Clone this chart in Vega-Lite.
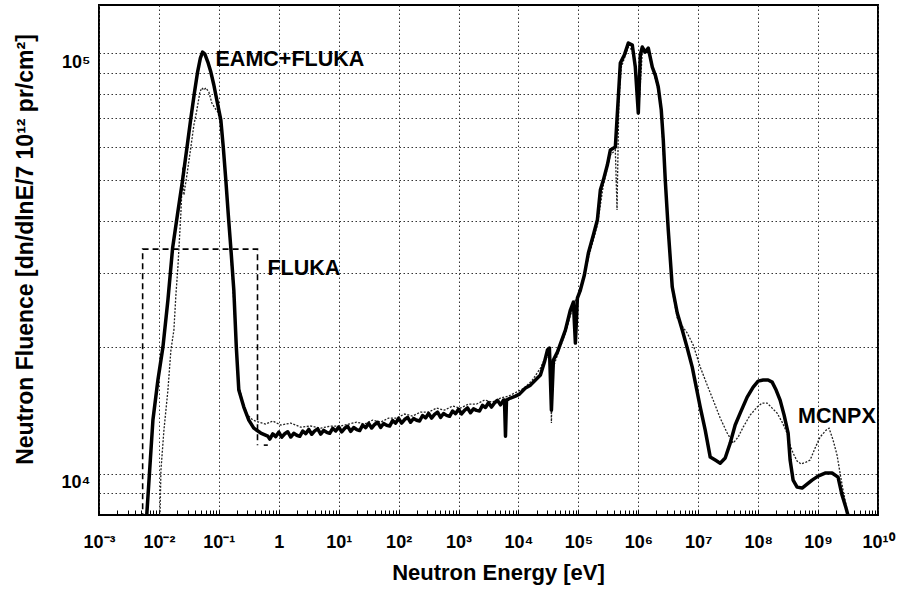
{
  "$schema": "https://vega.github.io/schema/vega-lite/v6.json",
  "width": 779,
  "height": 510,
  "autosize": "none",
  "padding": {"left": 99, "top": 5, "right": 23, "bottom": 78},
  "background": "#ffffff",
  "config": {
    "view": {"stroke": "#000000", "strokeWidth": 2},
    "font": "Liberation Sans"
  },
  "datasets": {
    "eamc": [
      {"E":0.0062,"F":7800},{"E":0.00794,"F":13420},{"E":0.00962,"F":16710},{"E":0.01166,"F":20010},{"E":0.01413,"F":25900},
      {"E":0.01692,"F":34430},{"E":0.02034,"F":41240},{"E":0.02483,"F":49950},{"E":0.02929,"F":59530},{"E":0.03415,"F":70180},
      {"E":0.03905,"F":80450},{"E":0.04416,"F":90260},{"E":0.04916,"F":97450},{"E":0.05349,"F":100700},{"E":0.05843,"F":99610},
      {"E":0.06556,"F":95350},{"E":0.07356,"F":90260},{"E":0.08254,"F":84070},{"E":0.0926,"F":77400},{"E":0.108,"F":69400},
      {"E":0.1189,"F":59530},{"E":0.1308,"F":49950},{"E":0.1439,"F":41240},{"E":0.1585,"F":34430},{"E":0.1778,"F":27350},
      {"E":0.1957,"F":20010},{"E":0.2154,"F":15820},{"E":0.2611,"F":14410},{"E":0.3162,"F":13420},{"E":0.3831,"F":12840},
      {"E":0.5012,"F":12500},{"E":0.6556,"F":12290},
      {"E":0.7079,"F":12090},{"E":0.7943,"F":12440},{"E":0.8913,"F":12260},{"E":1,"F":12560},{"E":1.122,"F":12220},
      {"E":1.259,"F":12450},{"E":1.413,"F":12590},{"E":1.585,"F":12230},{"E":1.778,"F":12480},{"E":1.995,"F":12350},
      {"E":2.239,"F":12280},{"E":2.512,"F":12640},{"E":2.818,"F":12460},{"E":3.162,"F":12750},{"E":3.548,"F":12420},
      {"E":3.981,"F":12650},{"E":4.467,"F":12790},{"E":5.012,"F":12430},{"E":5.623,"F":12680},{"E":6.31,"F":12550},
      {"E":7.079,"F":12480},{"E":7.943,"F":12830},{"E":8.913,"F":12640},{"E":10,"F":12920},{"E":11.22,"F":12580},
      {"E":12.59,"F":12830},{"E":14.13,"F":12970},{"E":15.85,"F":12620},{"E":17.78,"F":12880},{"E":19.95,"F":12740},
      {"E":22.39,"F":12670},{"E":25.12,"F":13050},{"E":28.18,"F":12870},{"E":31.62,"F":13180},{"E":35.48,"F":12850},
      {"E":39.81,"F":13100},{"E":44.67,"F":13260},{"E":50.12,"F":12890},{"E":56.23,"F":13170},{"E":63.1,"F":13040},
      {"E":70.79,"F":12990},{"E":79.43,"F":13380},{"E":89.13,"F":13200},{"E":100,"F":13540},{"E":112.2,"F":13200},
      {"E":125.9,"F":13460},{"E":141.3,"F":13620},{"E":158.5,"F":13260},{"E":177.8,"F":13540},{"E":199.5,"F":13410},
      {"E":223.9,"F":13350},{"E":251.2,"F":13760},{"E":281.8,"F":13580},{"E":316.2,"F":13920},{"E":354.8,"F":13570},
      {"E":398.1,"F":13840},{"E":446.7,"F":14010},{"E":501.2,"F":13620},{"E":562.3,"F":13910},{"E":631,"F":13770},
      {"E":707.9,"F":13700},{"E":794.3,"F":14100},{"E":891.3,"F":13900},{"E":1000,"F":14240},{"E":1122,"F":13880},
      {"E":1259,"F":14160},{"E":1413,"F":14340},{"E":1585,"F":13970},{"E":1778,"F":14270},{"E":1995,"F":14150},
      {"E":2239,"F":14100},{"E":2512,"F":14550},{"E":2818,"F":14380},{"E":3162,"F":14760},{"E":3548,"F":14410},
      {"E":3981,"F":14740},{"E":4467,"F":14950},{"E":5012,"F":14590},{"E":5623,"F":14970},
      {"E":5843,"F":14970},{"E":6072,"F":12290},{"E":6310,"F":14970},{"E":7356,"F":15140},
      {"E":8913,"F":15300},{"E":10390,"F":15470},{"E":13080,"F":15990},{"E":15850,"F":16250},{"E":19200,"F":16710},
      {"E":23260,"F":17170},{"E":27130,"F":18440},{"E":30430,"F":19690},{"E":32860,"F":19910},{"E":35480,"F":14170},
      {"E":38310,"F":18640},{"E":44670,"F":19470},{"E":60720,"F":21970},{"E":73560,"F":24520},{"E":82540,"F":25610},
      {"E":89130,"F":20460},{"E":96240,"F":26180},{"E":108000,"F":27350},{"E":125900,"F":29700},{"E":146800,"F":33500},
      {"E":177800,"F":36970},{"E":207300,"F":40130},{"E":232600,"F":47290},{"E":261000,"F":49950},{"E":304300,"F":54230},
      {"E":341500,"F":58880},{"E":413700,"F":59850},{"E":464200,"F":78700},{"E":501200,"F":94830},{"E":584600,"F":99080},
      {"E":681300,"F":105800},{"E":794300,"F":104600},{"E":891300,"F":92780},{"E":1000000,"F":72100},{"E":1080000,"F":99080},
      {"E":1166000,"F":103500},{"E":1308000,"F":100700},{"E":1468000,"F":102900},{"E":1712000,"F":92780},{"E":1920000,"F":88800},
      {"E":2154000,"F":83170},{"E":2417000,"F":73300},{"E":2611000,"F":62200},{"E":2818000,"F":49950},{"E":3162000,"F":38000},
      {"E":3687000,"F":27810},{"E":4467000,"F":24120},{"E":5412000,"F":21970},{"E":6556000,"F":19910},{"E":7943000,"F":17940},
      {"E":10800000,"F":14410},{"E":13080000,"F":12700},{"E":15850000,"F":10960},{"E":19200000,"F":10780},{"E":23260000,"F":10600},
      {"E":28180000,"F":10900},{"E":34150000,"F":11830},{"E":41370000,"F":13060},{"E":50120000,"F":13940},{"E":65560000,"F":15220},
      {"E":82540000,"F":16070},{"E":100000000,"F":16610},{"E":121200000,"F":16710},{"E":146800000,"F":16710},{"E":171200000,"F":16520},
      {"E":199500000,"F":15820},{"E":232600000,"F":14970},{"E":271200000,"F":13790},{"E":316200000,"F":12500},{"E":341500000,"F":10780},
      {"E":383100000,"F":9661},{"E":446700000,"F":9297},{"E":541200000,"F":9247},{"E":655600000,"F":9452},{"E":794300000,"F":9661},
      {"E":1000000000,"F":9875},{"E":1308000000,"F":10040},{"E":1712000000,"F":10040},{"E":2154000000,"F":9820},{"E":2512000000,"F":8900},
      {"E":2929000000,"F":8287},{"E":3286000000,"F":7800}
    ],
    "mcnpx": [
      {"E":0.0104,"F":7800},{"E":0.0108,"F":10200},{"E":0.01212,"F":12700},{"E":0.01413,"F":15820},{"E":0.01585,"F":19690},
      {"E":0.01778,"F":21970},{"E":0.01919,"F":26610},{"E":0.02073,"F":31030},{"E":0.02326,"F":41700},{"E":0.02512,"F":53640},
      {"E":0.02611,"F":46010},{"E":0.02929,"F":51350},{"E":0.03415,"F":59850},{"E":0.03831,"F":67520},{"E":0.04299,"F":73300},
      {"E":0.04824,"F":80880},{"E":0.05208,"F":82720},{"E":0.05623,"F":81800},{"E":0.06072,"F":82720},{"E":0.06813,"F":80880},
      {"E":0.07644,"F":76190},{"E":0.08577,"F":74120},{"E":0.09623,"F":72520},{"E":0.108,"F":67520},{"E":0.1212,"F":57300},
      {"E":0.136,"F":46010},{"E":0.1525,"F":35950},{"E":0.1711,"F":28100},{"E":0.1919,"F":20800},{"E":0.2154,"F":16250},
      {"E":0.2512,"F":14730},{"E":0.3043,"F":13790},{"E":0.3687,"F":13420},{"E":0.4642,"F":13270},{"E":0.6072,"F":13130},
      {"E":0.7943,"F":13350},{"E":1.08,"F":13060},{"E":1.585,"F":13200},{"E":2.326,"F":12910},{"E":3.415,"F":12990},
      {"E":5.012,"F":12840},{"E":7.356,"F":12990},{"E":10.8,"F":12990},{"E":14.68,"F":13130},{"E":19.95,"F":13270},
      {"E":27.1,"F":13130},{"E":36.87,"F":13420},{"E":50.12,"F":13270},{"E":68.1,"F":13570},{"E":92.6,"F":13570},
      {"E":125.9,"F":13870},{"E":171,"F":13720},{"E":232.6,"F":14020},{"E":316.2,"F":14020},{"E":430,"F":14330},
      {"E":584.6,"F":14170},{"E":794.3,"F":14490},{"E":1080,"F":14330},{"E":1468,"F":14650},{"E":1995,"F":14650},
      {"E":2710,"F":14970},{"E":3687,"F":14810},{"E":5012,"F":15140},{"E":6813,"F":15300},{"E":9261,"F":15640},
      {"E":12590,"F":15990},{"E":17110,"F":16710},{"E":23260,"F":17840},{"E":29290,"F":19150},{"E":34150,"F":18640},
      {"E":35480,"F":13200},{"E":36840,"F":17650},{"E":46420,"F":19470},{"E":60720,"F":21610},{"E":73560,"F":23850},
      {"E":89130,"F":25900},{"E":108000,"F":27050},{"E":146800,"F":32600},{"E":207300,"F":39050},{"E":261000,"F":48610},
      {"E":341500,"F":57300},{"E":413700,"F":58880},{"E":441600,"F":42390},{"E":473200,"F":77400},{"E":521000,"F":92780},
      {"E":681300,"F":103500},{"E":794300,"F":101800},{"E":926000,"F":90260},{"E":1039000,"F":77400},{"E":1166000,"F":100700},
      {"E":1468000,"F":100700},{"E":1848000,"F":89290},{"E":2326000,"F":77400},{"E":2818000,"F":48610},{"E":3162000,"F":36970},
      {"E":3687000,"F":27350},{"E":4467000,"F":23460},{"E":5412000,"F":22450},{"E":6556000,"F":21610},{"E":8254000,"F":20240},
      {"E":10800000,"F":17940},{"E":14130000,"F":16250},{"E":17780000,"F":14970},{"E":23260000,"F":13570},{"E":30430000,"F":12500},
      {"E":38310000,"F":11830},{"E":46420000,"F":12230},{"E":56230000,"F":12910},{"E":73560000,"F":13790},{"E":96240000,"F":14410},
      {"E":116600000,"F":14730},{"E":141300000,"F":14730},{"E":171200000,"F":14330},{"E":207300000,"F":13940},{"E":251200000,"F":13270},
      {"E":304300000,"F":12500},{"E":341500000,"F":11700},{"E":383100000,"F":11200},{"E":446700000,"F":10720},{"E":520800000,"F":10550},
      {"E":631000000,"F":10660},{"E":735600000,"F":10780},{"E":891300000,"F":11510},{"E":1080000000,"F":12230},{"E":1359000000,"F":12700},
      {"E":1525000000,"F":12840},{"E":1778000000,"F":12030},{"E":2073000000,"F":11080},{"E":2326000000,"F":10040},{"E":2610000000,"F":9147},
      {"E":2929000000,"F":8423},{"E":3162000000,"F":7800}
    ],
    "box": [
      {"part":"a","i":1,"E":0.00535,"F":7800},
      {"part":"a","i":2,"E":0.00535,"F":34230},
      {"part":"a","i":3,"E":0.4416,"F":34230},
      {"part":"a","i":4,"E":0.4416,"F":11700},
      {"part":"b","i":1,"E":0.562,"F":11700},
      {"part":"b","i":2,"E":0.656,"F":11700}
    ],
    "notes": [
      {"E":0.088,"F":93270,"label":"EAMC+FLUKA"},
      {"E":0.648,"F":29700,"label":"FLUKA"},
      {"E":464000000,"F":13200,"label":"MCNPX"}
    ]
  },
  "encoding": {
    "x": {
      "field": "E",
      "type": "quantitative",
      "scale": {"type": "log", "domain": [0.001, 10000000000], "nice": false},
      "axis": {
        "title": "Neutron Energy [eV]",
        "values": [0.001,0.002,0.003,0.004,0.005,0.006,0.007,0.008,0.009,
                   0.01,0.02,0.03,0.04,0.05,0.06,0.07,0.08,0.09,
                   0.1,0.2,0.3,0.4,0.5,0.6,0.7,0.8,0.9,
                   1,2,3,4,5,6,7,8,9,
                   10,20,30,40,50,60,70,80,90,
                   100,200,300,400,500,600,700,800,900,
                   1000,2000,3000,4000,5000,6000,7000,8000,9000,
                   1e4,2e4,3e4,4e4,5e4,6e4,7e4,8e4,9e4,
                   1e5,2e5,3e5,4e5,5e5,6e5,7e5,8e5,9e5,
                   1e6,2e6,3e6,4e6,5e6,6e6,7e6,8e6,9e6,
                   1e7,2e7,3e7,4e7,5e7,6e7,7e7,8e7,9e7,
                   1e8,2e8,3e8,4e8,5e8,6e8,7e8,8e8,9e8,
                   1e9,2e9,3e9,4e9,5e9,6e9,7e9,8e9,9e9,1e10],
        "labelExpr": "abs(log(datum.value)/LN10 - round(log(datum.value)/LN10)) < 0.01 ? ['10⁻³','10⁻²','10⁻¹','1','10¹','10²','10³','10⁴','10⁵','10⁶','10⁷','10⁸','10⁹','10¹⁰'][round(log(datum.value)/LN10)+3] : ''",
        "labelOverlap": false,
        "labelFlush": false,
        "labelFont": "Liberation Sans",
        "labelFontWeight": "bold",
        "labelFontSize": 18,
        "labelColor": "#000000",
        "labelBaseline": "alphabetic",
        "labelPadding": 37,
        "tickSize": -5,
        "tickColor": "#000000",
        "tickWidth": 1,
        "domain": false,
        "grid": true,
        "gridColor": "#333333",
        "gridDash": [1.5, 2.5],
        "gridWidth": 1,
        "gridOpacity": {"condition": {"test": "abs(log(datum.value)/LN10 - round(log(datum.value)/LN10)) < 0.01", "value": 1}, "value": 0},
        "titleFont": "Liberation Sans",
        "titleFontWeight": "bold",
        "titleFontSize": 22,
        "titleColor": "#000000",
        "titleBaseline": "alphabetic",
        "titleAlign": "center",
        "titleX": 399,
        "titleY": 64
      }
    },
    "y": {
      "field": "F",
      "type": "quantitative",
      "scale": {"type": "log", "domain": [7980, 130300], "nice": false},
      "axis": {
        "title": "Neutron Fluence [dn/dlnE/7 10¹² pr/cm²]",
        "values": [9000,10000,20000,30000,40000,50000,60000,70000,80000,90000,100000],
        "labelExpr": "datum.value == 10000 ? '10⁴' : (datum.value == 100000 ? '10⁵' : '')",
        "labelOverlap": false,
        "labelFlush": false,
        "labelFont": "Liberation Sans",
        "labelFontWeight": "bold",
        "labelFontSize": 18,
        "labelColor": "#000000",
        "labelBaseline": "top",
        "labelPadding": 9,
        "ticks": false,
        "domain": false,
        "grid": true,
        "gridColor": "#333333",
        "gridDash": [1.5, 2.5],
        "gridWidth": 1,
        "titleFont": "Liberation Sans",
        "titleFontWeight": "bold",
        "titleFontSize": 23,
        "titleColor": "#000000",
        "titleAngle": 270,
        "titleBaseline": "alphabetic",
        "titleX": -67,
        "titleY": 244
      }
    }
  },
  "layer": [
    {
      "data": {"name": "box"},
      "mark": {"type": "line", "clip": true, "color": "#000000", "strokeWidth": 1.6, "strokeDash": [6, 4]},
      "encoding": {"detail": {"field": "part"}, "order": {"field": "i"}}
    },
    {
      "data": {"name": "mcnpx"},
      "mark": {"type": "line", "clip": true, "color": "#222222", "strokeWidth": 1.3, "strokeDash": [2, 1.5]},
      "encoding": {}
    },
    {
      "data": {"name": "eamc"},
      "mark": {"type": "line", "clip": true, "color": "#000000", "strokeWidth": 3.5, "strokeJoin": "round"},
      "encoding": {}
    },
    {
      "data": {"name": "notes"},
      "mark": {"type": "text", "align": "left", "baseline": "alphabetic", "font": "Liberation Sans", "fontWeight": "bold", "fontSize": 21.5, "color": "#000000"},
      "encoding": {"text": {"field": "label"}}
    }
  ]
}
